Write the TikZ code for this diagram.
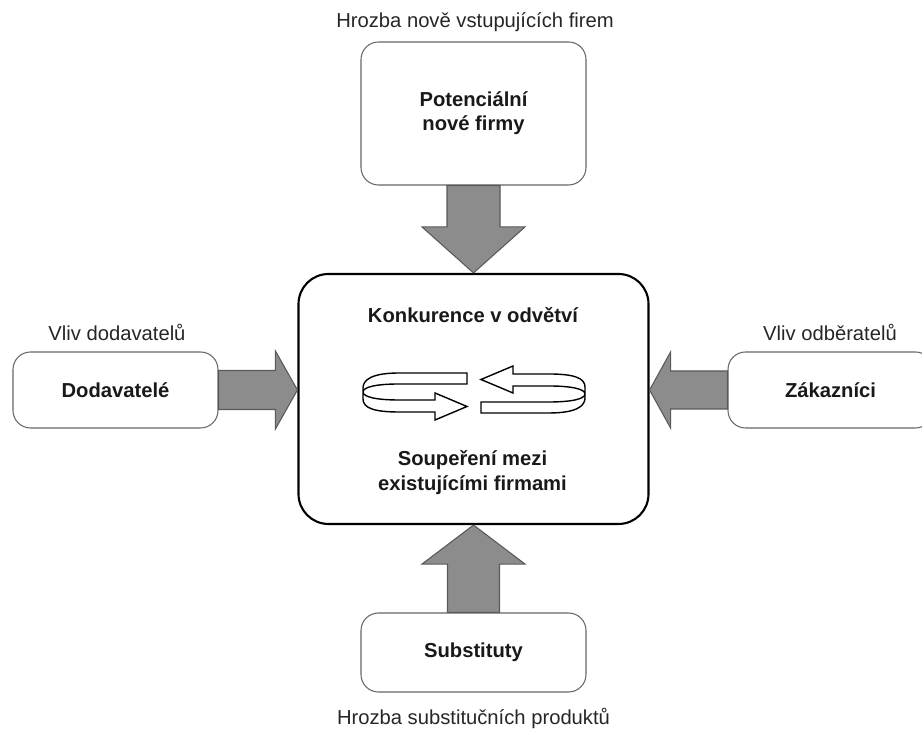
\documentclass[tikz,border=0pt]{standalone}
\usepackage{fontspec}
\setmainfont{Liberation Sans}
\usetikzlibrary{calc}
\newcommand{\diagfont}{\fontsize{11.5}{13.8}\selectfont}
\tikzset{
  smallbox/.style={draw=black!60, line width=0.6pt, rounded corners=0.35cm, fill=white,
    align=center, inner sep=0pt, font=\diagfont\bfseries, text=black!90},
  bigbox/.style={draw=black, line width=1.2pt, rounded corners=0.6cm},
  fatarrow/.style={draw=black!65, fill=black!45, line width=0.6pt, line join=miter},
  ribbon/.style={draw=black, fill=white, line width=0.8pt},
  caption/.style={font=\diagfont, text=black!85}
}
\begin{document}
\begin{tikzpicture}
\useasboundingbox (0,0) rectangle (18.44,14.58);
% boxes
\node[bigbox, minimum width=7cm, minimum height=5cm] (rivalry) at (9.47,6.6) {};
\node[smallbox, minimum width=4.5cm, minimum height=2.86cm] (entrants) at (9.47,12.31) {Potenciální\\nové firmy};
\node[smallbox, minimum width=4.1cm, minimum height=1.52cm] (suppliers) at (2.31,6.78) {Dodavatelé};
\node[smallbox, minimum width=4.1cm, minimum height=1.52cm] (buyers) at (16.61,6.78) {Zákazníci};
\node[smallbox, minimum width=4.5cm, minimum height=1.58cm] (substitutes) at (9.47,1.53) {Substituty};
% captions
\node[caption] (threatnew) at (9.5,14.14) {Hrozba nově vstupujících firem};
\node[caption] (supplierpower) at (2.34,7.94) {Vliv dodavatelů};
\node[caption] (buyerpower) at (16.6,7.94) {Vliv odběratelů};
\node[caption] (threatsub) at (9.47,0.22) {Hrozba substitučních produktů};
% texts in the middle box
\node[font=\diagfont\bfseries, text=black!90] (rivalrytitle) at (9.46,8.28) {Konkurence v odvětví};
\node[font=\diagfont\bfseries, text=black!90, align=center] (rivalrytext) at (9.45,5.13) {Soupeření mezi\\existujícími firmami};
% fat arrows
\draw[fatarrow] ($(entrants.south)+(-0.53,0)$) -- ($(rivalry.north)+(-0.53,0.92)$) -- ($(rivalry.north)+(-1.03,0.92)$)
  -- (rivalry.north) -- ($(rivalry.north)+(1.03,0.92)$) -- ($(rivalry.north)+(0.53,0.92)$) -- ($(entrants.south)+(0.53,0)$) -- cycle;
\draw[fatarrow] ($(substitutes.north)+(-0.52,0)$) -- ($(rivalry.south)+(-0.52,-0.78)$) -- ($(rivalry.south)+(-1.03,-0.78)$)
  -- (rivalry.south) -- ($(rivalry.south)+(1.03,-0.78)$) -- ($(rivalry.south)+(0.52,-0.78)$) -- ($(substitutes.north)+(0.52,0)$) -- cycle;
\coordinate (lefttip) at (suppliers.east -| rivalry.west);
\draw[fatarrow] ($(suppliers.east)+(0,0.39)$) -- ($(lefttip)+(-0.44,0.39)$) -- ($(lefttip)+(-0.44,0.78)$)
  -- (lefttip) -- ($(lefttip)+(-0.44,-0.78)$) -- ($(lefttip)+(-0.44,-0.39)$) -- ($(suppliers.east)+(0,-0.39)$) -- cycle;
\coordinate (righttip) at (buyers.west -| rivalry.east);
\draw[fatarrow] ($(buyers.west)+(0,0.38)$) -- ($(righttip)+(0.42,0.38)$) -- ($(righttip)+(0.42,0.76)$)
  -- (righttip) -- ($(righttip)+(0.42,-0.76)$) -- ($(righttip)+(0.42,-0.38)$) -- ($(buyers.west)+(0,-0.38)$) -- cycle;
% rivalry loop
\coordinate (spin) at (9.48,6.72);
\foreach \ang in {0,180}
  \draw[ribbon, shift={(spin)}, rotate=\ang] (-0.14,0.40) -- (-1.5,0.40) .. controls (-2.05,0.40) and (-2.22,0.26) .. (-2.22,0.10)
    -- (-2.22,-0.12) .. controls (-2.22,-0.30) and (-2.0,-0.38) .. (-1.5,-0.38) -- (-0.78,-0.38) -- (-0.78,-0.54)
    -- (-0.14,-0.27) -- (-0.78,0) -- (-0.78,-0.14) -- (-1.5,-0.14) .. controls (-1.95,-0.14) and (-2.22,-0.08) .. (-2.22,0.02)
    .. controls (-2.22,0.12) and (-1.95,0.18) .. (-1.5,0.18) -- (-0.14,0.18) -- cycle;
\end{tikzpicture}
\end{document}
